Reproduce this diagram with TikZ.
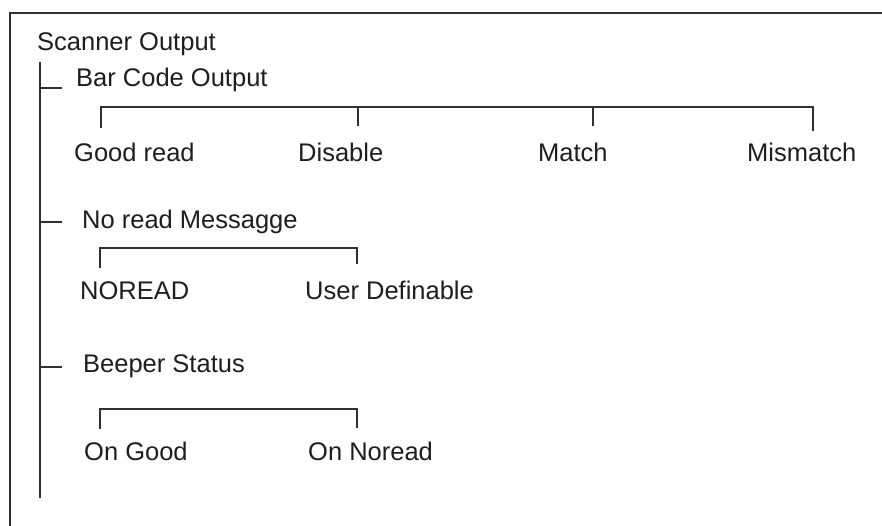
\documentclass[tikz,border=0pt]{standalone}
\usepackage{fontspec}
\setmainfont{Liberation Sans}
\definecolor{txt}{HTML}{1E1E1E}
\definecolor{ln}{HTML}{303030}
\begin{document}
\begin{tikzpicture}[x=1pt,y=-1pt,
  lbl/.style={anchor=base west, inner sep=0pt, font=\fontsize{25.5}{30}\selectfont, text=txt},
  tree/.style={draw=ln, line width=1.8pt, line cap=rect},
  frame/.style={draw=ln, line width=2.2pt}]
\useasboundingbox (0,0) rectangle (882,525);
\fill[white] (0,0) rectangle (882,525);
\draw[frame] (884,13) -- (10,13) -- (10,527);

% labels
\node[lbl] (root) at (37,50) {Scanner Output};
\node[lbl] (bco) at (76,86) {Bar Code Output};
\node[lbl] (gr) at (74,161) {Good read};
\node[lbl] (dis) at (298,161) {Disable};
\node[lbl] (mat) at (538,161) {Match};
\node[lbl] (mis) at (747,161) {Mismatch};
\node[lbl] (nrm) at (82,228) {No read Messagge};
\node[lbl] (nor) at (80,299) {NOREAD};
\node[lbl] (ud) at (305,299) {User Definable};
\node[lbl] (bs) at (83,372) {Beeper Status};
\node[lbl] (og) at (84,460) {On Good};
\node[lbl] (on) at (308,460) {On Noread};

% trunk
\coordinate (trTop) at (40,63);
\coordinate (trBot) at (40,497);
\draw[tree] (trTop) -- (trBot);
\coordinate (k1) at (61,88);
\coordinate (k2) at (61,222);
\coordinate (k3) at (61,367);
\draw[tree] (trTop |- k1) -- (k1);
\draw[tree] (trTop |- k2) -- (k2);
\draw[tree] (trTop |- k3) -- (k3);

% bar code bracket
\coordinate (b1a) at (101,107);
\coordinate (b1b) at (358,107);
\coordinate (b1c) at (593,107);
\coordinate (b1d) at (813,107);
\draw[tree] (101,127) -- (b1a) -- (b1d) -- (813,130);
\draw[tree] (b1b) -- (358,125);
\draw[tree] (b1c) -- (593,125);

% no read bracket
\coordinate (b2a) at (100,248);
\coordinate (b2b) at (357,248);
\draw[tree] (100,267) -- (b2a) -- (b2b) -- (357,263);

% beeper bracket
\coordinate (b3a) at (100,409);
\coordinate (b3b) at (357,409);
\draw[tree] (100,428) -- (b3a) -- (b3b) -- (357,427);
\end{tikzpicture}
\end{document}
